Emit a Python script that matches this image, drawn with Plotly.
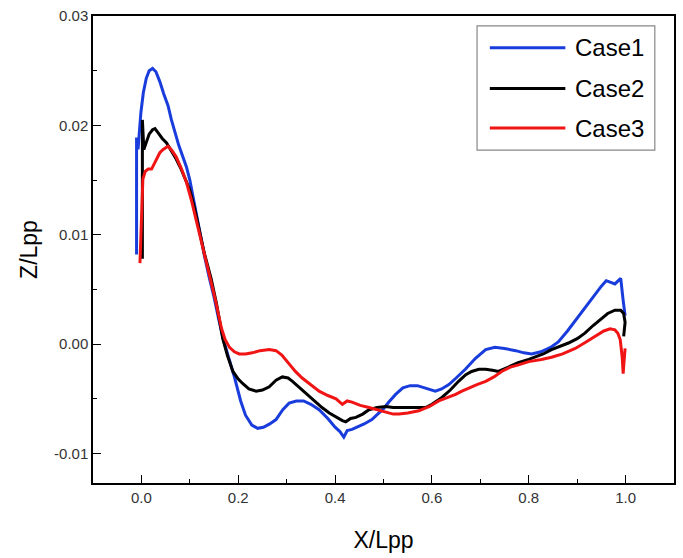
import plotly.graph_objects as go

# ---------------- data ----------------
case1_x = [-0.010, -0.010, -0.007, -0.004, -0.001, 0.004, 0.010, 0.016, 0.023, 0.030, 0.038, 0.046,
           0.055, 0.062, 0.069, 0.077, 0.085, 0.093, 0.100, 0.110, 0.120, 0.130, 0.140, 0.150,
           0.160, 0.170, 0.180, 0.192, 0.205, 0.215, 0.228, 0.240, 0.252, 0.265, 0.278, 0.292,
           0.305, 0.320, 0.335, 0.350, 0.367, 0.385, 0.400, 0.410, 0.418, 0.425, 0.435, 0.445,
           0.460, 0.476, 0.490, 0.500, 0.511, 0.525, 0.540, 0.555, 0.570, 0.590, 0.607, 0.620,
           0.635, 0.650, 0.669, 0.690, 0.711, 0.730, 0.750, 0.773, 0.790, 0.806, 0.825, 0.845,
           0.861, 0.880, 0.900, 0.920, 0.937, 0.950, 0.960, 0.970, 0.978, 0.985, 0.990, 0.995, 0.999]
case1_y = [0.0082, 0.0189, 0.0178, 0.0195, 0.0212, 0.0230, 0.0243, 0.0250, 0.0252, 0.0249, 0.0240, 0.0229,
           0.0218, 0.0205, 0.0194, 0.0182, 0.0172, 0.0162, 0.0150, 0.0127, 0.0103, 0.0081, 0.0061, 0.0043,
           0.0022, 0.0003, -0.0012, -0.0030, -0.0052, -0.0065, -0.0074, -0.0077, -0.0076, -0.0073, -0.0069, -0.0060,
           -0.0054, -0.0052, -0.0052, -0.0055, -0.0060, -0.0068, -0.0076, -0.0080, -0.0085, -0.0079, -0.0078, -0.0076,
           -0.0073, -0.0069, -0.0063, -0.0059, -0.0053, -0.0046, -0.0040, -0.0038, -0.0038, -0.0041, -0.0043, -0.0041,
           -0.0037, -0.0031, -0.0023, -0.0013, -0.0005, -0.0003, -0.0004, -0.0006, -0.0008, -0.0009, -0.0007, -0.0003,
           0.0002, 0.0012, 0.0024, 0.0036, 0.0046, 0.0053, 0.0058, 0.0056, 0.0055, 0.0058, 0.0060, 0.0040, 0.0026]

case2_x = [0.002, 0.002, 0.005, 0.010, 0.016, 0.023, 0.028, 0.035, 0.043, 0.052, 0.062, 0.072,
           0.082, 0.092, 0.100, 0.110, 0.120, 0.130, 0.144, 0.155, 0.168, 0.178, 0.189, 0.200,
           0.209, 0.222, 0.237, 0.250, 0.264, 0.278, 0.291, 0.303, 0.312, 0.325, 0.340, 0.357,
           0.373, 0.388, 0.402, 0.415, 0.422, 0.432, 0.443, 0.457, 0.470, 0.487, 0.505, 0.520,
           0.538, 0.560, 0.587, 0.600, 0.620, 0.638, 0.655, 0.670, 0.682, 0.697, 0.711, 0.725,
           0.737, 0.758, 0.778, 0.800, 0.813, 0.830, 0.847, 0.865, 0.882, 0.900, 0.916, 0.933,
           0.949, 0.963, 0.978, 0.990, 0.996, 0.999, 0.996]
case2_y = [0.0078, 0.0205, 0.0178, 0.0185, 0.0192, 0.0196, 0.0197, 0.0193, 0.0188, 0.0184, 0.0177, 0.0169,
           0.0160, 0.0150, 0.0141, 0.0124, 0.0104, 0.0083, 0.0060, 0.0037, 0.0005, -0.0011, -0.0025, -0.0032,
           -0.0036, -0.0041, -0.0043, -0.0042, -0.0039, -0.0033, -0.0030, -0.0031, -0.0034, -0.0039, -0.0045, -0.0052,
           -0.0058, -0.0063, -0.0067, -0.0070, -0.0071, -0.0068, -0.0067, -0.0064, -0.0060, -0.0058, -0.0057, -0.0058,
           -0.0058, -0.0058, -0.0058, -0.0055, -0.0049, -0.0042, -0.0034, -0.0028, -0.0025, -0.0023, -0.0023, -0.0024,
           -0.0025, -0.0021, -0.0017, -0.0014, -0.0012, -0.0009, -0.0005, -0.0002, 0.0001, 0.0005, 0.0010, 0.0017,
           0.0023, 0.0028, 0.0031, 0.0031, 0.0028, 0.0020, 0.0007]

case3_x = [-0.003, 0.000, 0.003, 0.008, 0.014, 0.021, 0.026, 0.031, 0.038, 0.045, 0.055, 0.063,
           0.072, 0.082, 0.093, 0.103, 0.113, 0.125, 0.141, 0.153, 0.165, 0.173, 0.182, 0.192,
           0.202, 0.215, 0.229, 0.245, 0.264, 0.278, 0.290, 0.305, 0.318, 0.332, 0.350, 0.367,
           0.385, 0.402, 0.415, 0.425, 0.435, 0.452, 0.470, 0.487, 0.505, 0.520, 0.532, 0.550,
           0.573, 0.595, 0.614, 0.632, 0.649, 0.662, 0.676, 0.693, 0.711, 0.728, 0.744, 0.762,
           0.779, 0.800, 0.826, 0.847, 0.870, 0.896, 0.915, 0.937, 0.955, 0.968, 0.978, 0.984,
           0.989, 0.993, 0.995, 0.997, 0.999]
case3_y = [0.0074, 0.0120, 0.0151, 0.0158, 0.0160, 0.0160, 0.0164, 0.0169, 0.0175, 0.0178, 0.0181, 0.0177,
           0.0171, 0.0161, 0.0148, 0.0132, 0.0114, 0.0092, 0.0064, 0.0040, 0.0015, 0.0004, -0.0003, -0.0007,
           -0.0009, -0.0009, -0.0008, -0.0006, -0.0005, -0.0006, -0.0010, -0.0018, -0.0025, -0.0031, -0.0037, -0.0043,
           -0.0047, -0.0050, -0.0055, -0.0052, -0.0053, -0.0056, -0.0058, -0.0060, -0.0062, -0.0064, -0.0064, -0.0063,
           -0.0061, -0.0057, -0.0052, -0.0049, -0.0046, -0.0043, -0.0040, -0.0037, -0.0034, -0.0030, -0.0025, -0.0021,
           -0.0019, -0.0016, -0.0014, -0.0012, -0.0009, -0.0004, 0.0001, 0.0007, 0.0012, 0.0014, 0.0013, 0.0010,
           0.0004, -0.0012, -0.0027, -0.0015, -0.0004]

series_names = ["Case1", "Case2", "Case3"]
series_colors = ["rgb(25,60,220)", "rgb(0,0,0)", "rgb(240,20,20)"]

x_tickvals = [0.0, 0.2, 0.4, 0.6, 0.8, 1.0]
x_ticktext = ["0.0", "0.2", "0.4", "0.6", "0.8", "1.0"]
y_tickvals = [-0.01, 0.0, 0.01, 0.02, 0.03]
y_ticktext = ["-0.01", "0.00", "0.01", "0.02", "0.03"]

# ---------------- figure ----------------
fig = go.Figure()
all_x = [case1_x, case2_x, case3_x]
all_y = [case1_y, case2_y, case3_y]
for name, col, xs, ys in zip(series_names, series_colors, all_x, all_y):
    fig.add_trace(go.Scatter(x=xs, y=ys, mode="lines", name=name,
                             line=dict(color=col, width=3), showlegend=False))

font_family = "Liberation Sans, Arial, sans-serif"

fig.update_layout(
    width=683, height=558,
    margin=dict(l=93, r=7, t=13, b=75),
    paper_bgcolor="white", plot_bgcolor="white",
    font=dict(family=font_family, color="#222"),
)

axis_common = dict(
    showline=True, linecolor="black", linewidth=1.5, mirror=True,
    showgrid=False, zeroline=False,
    ticks="inside", ticklen=8, tickwidth=1.2, tickcolor="black",
    tickfont=dict(size=15, color="#333", family=font_family),
)

fig.update_xaxes(
    range=[-0.1, 1.1], tickvals=x_tickvals, ticktext=x_ticktext,
    minor=dict(ticks="inside", ticklen=4, tickwidth=1.2, tickcolor="black", dtick=0.1, tick0=0),
    title=dict(text="X/Lpp", font=dict(size=23, color="black", family=font_family), standoff=27),
    **axis_common,
)
fig.update_yaxes(
    range=[-0.0127, 0.03], tickvals=y_tickvals, ticktext=y_ticktext,
    minor=dict(ticks="inside", ticklen=4, tickwidth=1.2, tickcolor="black", dtick=0.005, tick0=0),
    title=dict(text="Z/Lpp", font=dict(size=23, color="black", family=font_family), standoff=10),
    **axis_common,
)

# ---------------- legend (drawn to match long legend samples) ----------------
fig.add_shape(type="rect", xref="paper", yref="paper", x0=0.661, x1=0.967, y0=0.713, y1=0.979,
              line=dict(color="#888", width=1.2), fillcolor="white", layer="above")
row_y = [0.932, 0.845, 0.760]
for name, col, yy in zip(series_names, series_colors, row_y):
    fig.add_shape(type="line", xref="paper", yref="paper", x0=0.683, x1=0.813, y0=yy, y1=yy,
                  line=dict(color=col, width=3), layer="above")
    fig.add_annotation(xref="paper", yref="paper", x=0.826, y=yy, text=name, showarrow=False,
                       xanchor="left", yanchor="middle",
                       font=dict(size=24, color="black", family=font_family))

fig.write_html("out.html")
